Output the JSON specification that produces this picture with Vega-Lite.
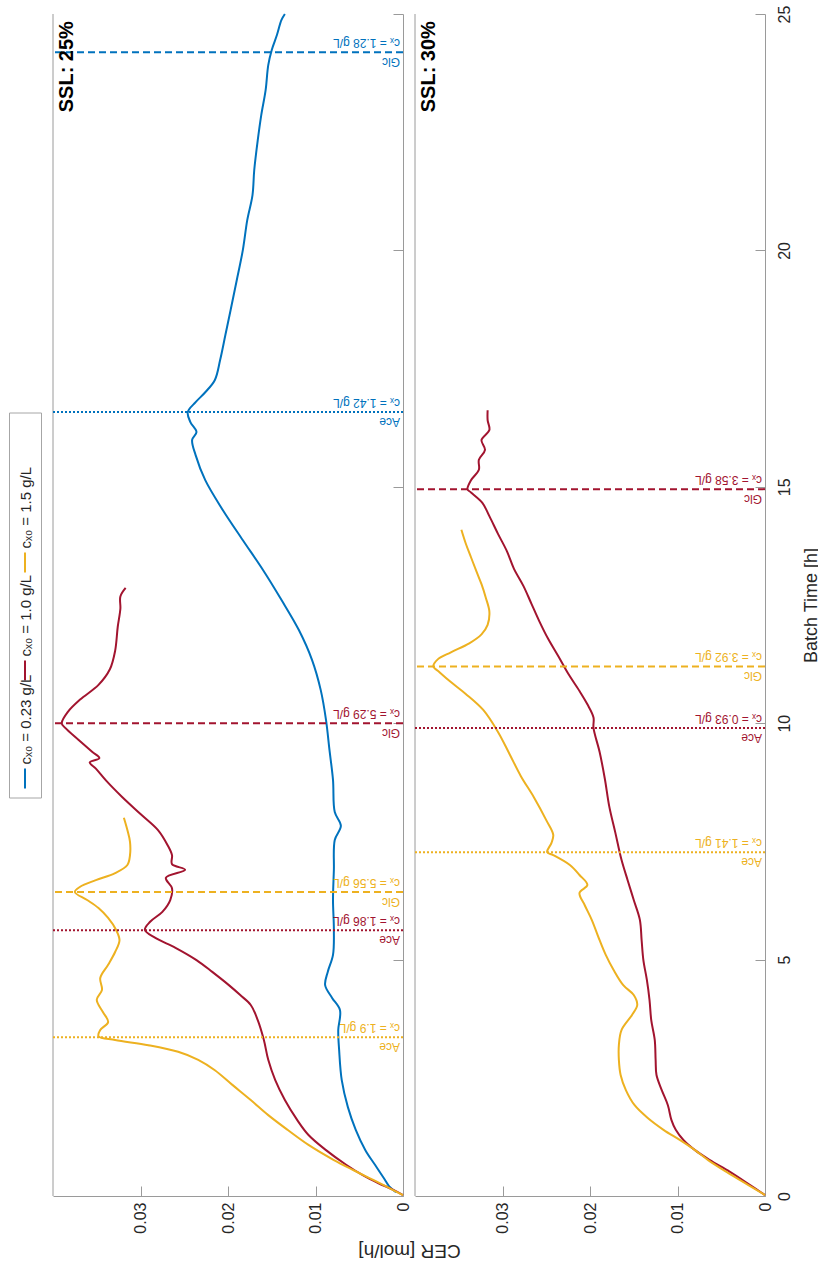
{
  "$schema": "https://vega.github.io/schema/vega-lite/v6.json",
  "background": "white",
  "padding": {"left": 8, "top": 5, "right": 0, "bottom": 20},
  "config": {
    "view": {"stroke": null},
    "font": "Liberation Sans, DejaVu Sans, sans-serif",
    "axis": {
      "grid": false,
      "domainColor": "#9a9a9a",
      "tickColor": "#9a9a9a",
      "labelColor": "#262626",
      "titleColor": "#262626",
      "labelFontSize": 16,
      "titleFontWeight": "normal",
      "labelFlush": false,
      "labelOverlap": false
    }
  },
  "datasets": {
    "curves": [
      {"panel": "SSL: 25%", "c0": "0.23", "t": 0.08, "cer": 0.0008},
      {"panel": "SSL: 25%", "c0": "0.23", "t": 0.21, "cer": 0.0016},
      {"panel": "SSL: 25%", "c0": "0.23", "t": 0.38, "cer": 0.0022},
      {"panel": "SSL: 25%", "c0": "0.23", "t": 0.66, "cer": 0.0032},
      {"panel": "SSL: 25%", "c0": "0.23", "t": 0.97, "cer": 0.0043},
      {"panel": "SSL: 25%", "c0": "0.23", "t": 1.40, "cer": 0.0054},
      {"panel": "SSL: 25%", "c0": "0.23", "t": 1.88, "cer": 0.0063},
      {"panel": "SSL: 25%", "c0": "0.23", "t": 2.45, "cer": 0.0070},
      {"panel": "SSL: 25%", "c0": "0.23", "t": 3.09, "cer": 0.0073},
      {"panel": "SSL: 25%", "c0": "0.23", "t": 3.51, "cer": 0.0074},
      {"panel": "SSL: 25%", "c0": "0.23", "t": 3.93, "cer": 0.0072},
      {"panel": "SSL: 25%", "c0": "0.23", "t": 4.19, "cer": 0.0081},
      {"panel": "SSL: 25%", "c0": "0.23", "t": 4.46, "cer": 0.0089},
      {"panel": "SSL: 25%", "c0": "0.23", "t": 4.74, "cer": 0.0086},
      {"panel": "SSL: 25%", "c0": "0.23", "t": 5.10, "cer": 0.0080},
      {"panel": "SSL: 25%", "c0": "0.23", "t": 5.63, "cer": 0.0079},
      {"panel": "SSL: 25%", "c0": "0.23", "t": 6.26, "cer": 0.0080},
      {"panel": "SSL: 25%", "c0": "0.23", "t": 6.90, "cer": 0.0079},
      {"panel": "SSL: 25%", "c0": "0.23", "t": 7.53, "cer": 0.0078},
      {"panel": "SSL: 25%", "c0": "0.23", "t": 7.83, "cer": 0.0071},
      {"panel": "SSL: 25%", "c0": "0.23", "t": 8.12, "cer": 0.0078},
      {"panel": "SSL: 25%", "c0": "0.23", "t": 8.80, "cer": 0.0080},
      {"panel": "SSL: 25%", "c0": "0.23", "t": 9.43, "cer": 0.0084},
      {"panel": "SSL: 25%", "c0": "0.23", "t": 10.07, "cer": 0.0088},
      {"panel": "SSL: 25%", "c0": "0.23", "t": 10.70, "cer": 0.0094},
      {"panel": "SSL: 25%", "c0": "0.23", "t": 11.34, "cer": 0.0104},
      {"panel": "SSL: 25%", "c0": "0.23", "t": 11.97, "cer": 0.0119},
      {"panel": "SSL: 25%", "c0": "0.23", "t": 12.61, "cer": 0.0139},
      {"panel": "SSL: 25%", "c0": "0.23", "t": 13.24, "cer": 0.0160},
      {"panel": "SSL: 25%", "c0": "0.23", "t": 13.87, "cer": 0.0183},
      {"panel": "SSL: 25%", "c0": "0.23", "t": 14.51, "cer": 0.0206},
      {"panel": "SSL: 25%", "c0": "0.23", "t": 15.14, "cer": 0.0226},
      {"panel": "SSL: 25%", "c0": "0.23", "t": 15.67, "cer": 0.0237},
      {"panel": "SSL: 25%", "c0": "0.23", "t": 15.99, "cer": 0.0241},
      {"panel": "SSL: 25%", "c0": "0.23", "t": 16.16, "cer": 0.0236},
      {"panel": "SSL: 25%", "c0": "0.23", "t": 16.37, "cer": 0.0243},
      {"panel": "SSL: 25%", "c0": "0.23", "t": 16.58, "cer": 0.0246},
      {"panel": "SSL: 25%", "c0": "0.23", "t": 16.79, "cer": 0.0237},
      {"panel": "SSL: 25%", "c0": "0.23", "t": 17.00, "cer": 0.0226},
      {"panel": "SSL: 25%", "c0": "0.23", "t": 17.26, "cer": 0.0215},
      {"panel": "SSL: 25%", "c0": "0.23", "t": 17.68, "cer": 0.0209},
      {"panel": "SSL: 25%", "c0": "0.23", "t": 18.21, "cer": 0.0203},
      {"panel": "SSL: 25%", "c0": "0.23", "t": 18.74, "cer": 0.0197},
      {"panel": "SSL: 25%", "c0": "0.23", "t": 19.37, "cer": 0.0190},
      {"panel": "SSL: 25%", "c0": "0.23", "t": 20.01, "cer": 0.0183},
      {"panel": "SSL: 25%", "c0": "0.23", "t": 20.64, "cer": 0.0178},
      {"panel": "SSL: 25%", "c0": "0.23", "t": 21.17, "cer": 0.0172},
      {"panel": "SSL: 25%", "c0": "0.23", "t": 21.70, "cer": 0.0170},
      {"panel": "SSL: 25%", "c0": "0.23", "t": 22.33, "cer": 0.0166},
      {"panel": "SSL: 25%", "c0": "0.23", "t": 22.86, "cer": 0.0162},
      {"panel": "SSL: 25%", "c0": "0.23", "t": 23.39, "cer": 0.0157},
      {"panel": "SSL: 25%", "c0": "0.23", "t": 23.92, "cer": 0.0154},
      {"panel": "SSL: 25%", "c0": "0.23", "t": 24.24, "cer": 0.0150},
      {"panel": "SSL: 25%", "c0": "0.23", "t": 24.56, "cer": 0.0144},
      {"panel": "SSL: 25%", "c0": "0.23", "t": 24.87, "cer": 0.0139},
      {"panel": "SSL: 25%", "c0": "0.23", "t": 25.00, "cer": 0.0135},

      {"panel": "SSL: 25%", "c0": "1.0", "t": 0.02, "cer": 0.0000},
      {"panel": "SSL: 25%", "c0": "1.0", "t": 0.13, "cer": 0.0011},
      {"panel": "SSL: 25%", "c0": "1.0", "t": 0.27, "cer": 0.0028},
      {"panel": "SSL: 25%", "c0": "1.0", "t": 0.44, "cer": 0.0046},
      {"panel": "SSL: 25%", "c0": "1.0", "t": 0.66, "cer": 0.0065},
      {"panel": "SSL: 25%", "c0": "1.0", "t": 0.97, "cer": 0.0088},
      {"panel": "SSL: 25%", "c0": "1.0", "t": 1.29, "cer": 0.0108},
      {"panel": "SSL: 25%", "c0": "1.0", "t": 1.61, "cer": 0.0121},
      {"panel": "SSL: 25%", "c0": "1.0", "t": 2.03, "cer": 0.0135},
      {"panel": "SSL: 25%", "c0": "1.0", "t": 2.45, "cer": 0.0146},
      {"panel": "SSL: 25%", "c0": "1.0", "t": 2.88, "cer": 0.0154},
      {"panel": "SSL: 25%", "c0": "1.0", "t": 3.30, "cer": 0.0159},
      {"panel": "SSL: 25%", "c0": "1.0", "t": 3.72, "cer": 0.0166},
      {"panel": "SSL: 25%", "c0": "1.0", "t": 4.04, "cer": 0.0174},
      {"panel": "SSL: 25%", "c0": "1.0", "t": 4.25, "cer": 0.0186},
      {"panel": "SSL: 25%", "c0": "1.0", "t": 4.46, "cer": 0.0199},
      {"panel": "SSL: 25%", "c0": "1.0", "t": 4.74, "cer": 0.0218},
      {"panel": "SSL: 25%", "c0": "1.0", "t": 4.99, "cer": 0.0236},
      {"panel": "SSL: 25%", "c0": "1.0", "t": 5.25, "cer": 0.0260},
      {"panel": "SSL: 25%", "c0": "1.0", "t": 5.46, "cer": 0.0283},
      {"panel": "SSL: 25%", "c0": "1.0", "t": 5.63, "cer": 0.0295},
      {"panel": "SSL: 25%", "c0": "1.0", "t": 5.80, "cer": 0.0289},
      {"panel": "SSL: 25%", "c0": "1.0", "t": 6.01, "cer": 0.0275},
      {"panel": "SSL: 25%", "c0": "1.0", "t": 6.26, "cer": 0.0266},
      {"panel": "SSL: 25%", "c0": "1.0", "t": 6.51, "cer": 0.0264},
      {"panel": "SSL: 25%", "c0": "1.0", "t": 6.73, "cer": 0.0271},
      {"panel": "SSL: 25%", "c0": "1.0", "t": 6.90, "cer": 0.0249},
      {"panel": "SSL: 25%", "c0": "1.0", "t": 7.02, "cer": 0.0264},
      {"panel": "SSL: 25%", "c0": "1.0", "t": 7.21, "cer": 0.0264},
      {"panel": "SSL: 25%", "c0": "1.0", "t": 7.42, "cer": 0.0269},
      {"panel": "SSL: 25%", "c0": "1.0", "t": 7.74, "cer": 0.0280},
      {"panel": "SSL: 25%", "c0": "1.0", "t": 8.08, "cer": 0.0300},
      {"panel": "SSL: 25%", "c0": "1.0", "t": 8.44, "cer": 0.0321},
      {"panel": "SSL: 25%", "c0": "1.0", "t": 8.78, "cer": 0.0339},
      {"panel": "SSL: 25%", "c0": "1.0", "t": 9.04, "cer": 0.0351},
      {"panel": "SSL: 25%", "c0": "1.0", "t": 9.17, "cer": 0.0358},
      {"panel": "SSL: 25%", "c0": "1.0", "t": 9.26, "cer": 0.0347},
      {"panel": "SSL: 25%", "c0": "1.0", "t": 9.39, "cer": 0.0355},
      {"panel": "SSL: 25%", "c0": "1.0", "t": 9.65, "cer": 0.0371},
      {"panel": "SSL: 25%", "c0": "1.0", "t": 9.90, "cer": 0.0386},
      {"panel": "SSL: 25%", "c0": "1.0", "t": 10.00, "cer": 0.0390},
      {"panel": "SSL: 25%", "c0": "1.0", "t": 10.24, "cer": 0.0383},
      {"panel": "SSL: 25%", "c0": "1.0", "t": 10.50, "cer": 0.0369},
      {"panel": "SSL: 25%", "c0": "1.0", "t": 10.81, "cer": 0.0348},
      {"panel": "SSL: 25%", "c0": "1.0", "t": 11.14, "cer": 0.0335},
      {"panel": "SSL: 25%", "c0": "1.0", "t": 11.53, "cer": 0.0329},
      {"panel": "SSL: 25%", "c0": "1.0", "t": 12.04, "cer": 0.0326},
      {"panel": "SSL: 25%", "c0": "1.0", "t": 12.42, "cer": 0.0323},
      {"panel": "SSL: 25%", "c0": "1.0", "t": 12.68, "cer": 0.0323},
      {"panel": "SSL: 25%", "c0": "1.0", "t": 12.86, "cer": 0.0317},

      {"panel": "SSL: 25%", "c0": "1.5", "t": 0.02, "cer": 0.0000},
      {"panel": "SSL: 25%", "c0": "1.5", "t": 0.17, "cer": 0.0016},
      {"panel": "SSL: 25%", "c0": "1.5", "t": 0.34, "cer": 0.0034},
      {"panel": "SSL: 25%", "c0": "1.5", "t": 0.55, "cer": 0.0057},
      {"panel": "SSL: 25%", "c0": "1.5", "t": 0.76, "cer": 0.0079},
      {"panel": "SSL: 25%", "c0": "1.5", "t": 1.08, "cer": 0.0108},
      {"panel": "SSL: 25%", "c0": "1.5", "t": 1.40, "cer": 0.0132},
      {"panel": "SSL: 25%", "c0": "1.5", "t": 1.71, "cer": 0.0154},
      {"panel": "SSL: 25%", "c0": "1.5", "t": 2.03, "cer": 0.0174},
      {"panel": "SSL: 25%", "c0": "1.5", "t": 2.35, "cer": 0.0195},
      {"panel": "SSL: 25%", "c0": "1.5", "t": 2.66, "cer": 0.0215},
      {"panel": "SSL: 25%", "c0": "1.5", "t": 2.88, "cer": 0.0234},
      {"panel": "SSL: 25%", "c0": "1.5", "t": 3.05, "cer": 0.0257},
      {"panel": "SSL: 25%", "c0": "1.5", "t": 3.19, "cer": 0.0291},
      {"panel": "SSL: 25%", "c0": "1.5", "t": 3.30, "cer": 0.0329},
      {"panel": "SSL: 25%", "c0": "1.5", "t": 3.38, "cer": 0.0348},
      {"panel": "SSL: 25%", "c0": "1.5", "t": 3.51, "cer": 0.0346},
      {"panel": "SSL: 25%", "c0": "1.5", "t": 3.68, "cer": 0.0337},
      {"panel": "SSL: 25%", "c0": "1.5", "t": 3.89, "cer": 0.0343},
      {"panel": "SSL: 25%", "c0": "1.5", "t": 4.15, "cer": 0.0350},
      {"panel": "SSL: 25%", "c0": "1.5", "t": 4.36, "cer": 0.0344},
      {"panel": "SSL: 25%", "c0": "1.5", "t": 4.61, "cer": 0.0346},
      {"panel": "SSL: 25%", "c0": "1.5", "t": 4.89, "cer": 0.0337},
      {"panel": "SSL: 25%", "c0": "1.5", "t": 5.16, "cer": 0.0329},
      {"panel": "SSL: 25%", "c0": "1.5", "t": 5.41, "cer": 0.0324},
      {"panel": "SSL: 25%", "c0": "1.5", "t": 5.63, "cer": 0.0328},
      {"panel": "SSL: 25%", "c0": "1.5", "t": 5.88, "cer": 0.0337},
      {"panel": "SSL: 25%", "c0": "1.5", "t": 6.09, "cer": 0.0348},
      {"panel": "SSL: 25%", "c0": "1.5", "t": 6.26, "cer": 0.0361},
      {"panel": "SSL: 25%", "c0": "1.5", "t": 6.43, "cer": 0.0375},
      {"panel": "SSL: 25%", "c0": "1.5", "t": 6.54, "cer": 0.0369},
      {"panel": "SSL: 25%", "c0": "1.5", "t": 6.68, "cer": 0.0351},
      {"panel": "SSL: 25%", "c0": "1.5", "t": 6.83, "cer": 0.0329},
      {"panel": "SSL: 25%", "c0": "1.5", "t": 7.00, "cer": 0.0315},
      {"panel": "SSL: 25%", "c0": "1.5", "t": 7.21, "cer": 0.0312},
      {"panel": "SSL: 25%", "c0": "1.5", "t": 7.49, "cer": 0.0312},
      {"panel": "SSL: 25%", "c0": "1.5", "t": 7.74, "cer": 0.0315},
      {"panel": "SSL: 25%", "c0": "1.5", "t": 8.00, "cer": 0.0319},

      {"panel": "SSL: 30%", "c0": "1.0", "t": 0.02, "cer": 0.0000},
      {"panel": "SSL: 30%", "c0": "1.0", "t": 0.23, "cer": 0.0017},
      {"panel": "SSL: 30%", "c0": "1.0", "t": 0.51, "cer": 0.0040},
      {"panel": "SSL: 30%", "c0": "1.0", "t": 0.76, "cer": 0.0063},
      {"panel": "SSL: 30%", "c0": "1.0", "t": 0.97, "cer": 0.0080},
      {"panel": "SSL: 30%", "c0": "1.0", "t": 1.18, "cer": 0.0093},
      {"panel": "SSL: 30%", "c0": "1.0", "t": 1.40, "cer": 0.0102},
      {"panel": "SSL: 30%", "c0": "1.0", "t": 1.61, "cer": 0.0107},
      {"panel": "SSL: 30%", "c0": "1.0", "t": 1.92, "cer": 0.0111},
      {"panel": "SSL: 30%", "c0": "1.0", "t": 2.24, "cer": 0.0118},
      {"panel": "SSL: 30%", "c0": "1.0", "t": 2.56, "cer": 0.0124},
      {"panel": "SSL: 30%", "c0": "1.0", "t": 2.88, "cer": 0.0125},
      {"panel": "SSL: 30%", "c0": "1.0", "t": 3.30, "cer": 0.0126},
      {"panel": "SSL: 30%", "c0": "1.0", "t": 3.72, "cer": 0.0130},
      {"panel": "SSL: 30%", "c0": "1.0", "t": 4.15, "cer": 0.0132},
      {"panel": "SSL: 30%", "c0": "1.0", "t": 4.57, "cer": 0.0135},
      {"panel": "SSL: 30%", "c0": "1.0", "t": 4.99, "cer": 0.0139},
      {"panel": "SSL: 30%", "c0": "1.0", "t": 5.41, "cer": 0.0141},
      {"panel": "SSL: 30%", "c0": "1.0", "t": 5.84, "cer": 0.0143},
      {"panel": "SSL: 30%", "c0": "1.0", "t": 6.26, "cer": 0.0150},
      {"panel": "SSL: 30%", "c0": "1.0", "t": 6.68, "cer": 0.0157},
      {"panel": "SSL: 30%", "c0": "1.0", "t": 7.11, "cer": 0.0164},
      {"panel": "SSL: 30%", "c0": "1.0", "t": 7.68, "cer": 0.0171},
      {"panel": "SSL: 30%", "c0": "1.0", "t": 8.24, "cer": 0.0178},
      {"panel": "SSL: 30%", "c0": "1.0", "t": 8.82, "cer": 0.0183},
      {"panel": "SSL: 30%", "c0": "1.0", "t": 9.39, "cer": 0.0189},
      {"panel": "SSL: 30%", "c0": "1.0", "t": 9.90, "cer": 0.0196},
      {"panel": "SSL: 30%", "c0": "1.0", "t": 10.12, "cer": 0.0196},
      {"panel": "SSL: 30%", "c0": "1.0", "t": 10.40, "cer": 0.0203},
      {"panel": "SSL: 30%", "c0": "1.0", "t": 10.68, "cer": 0.0212},
      {"panel": "SSL: 30%", "c0": "1.0", "t": 11.05, "cer": 0.0225},
      {"panel": "SSL: 30%", "c0": "1.0", "t": 11.41, "cer": 0.0236},
      {"panel": "SSL: 30%", "c0": "1.0", "t": 11.79, "cer": 0.0248},
      {"panel": "SSL: 30%", "c0": "1.0", "t": 12.16, "cer": 0.0258},
      {"panel": "SSL: 30%", "c0": "1.0", "t": 12.53, "cer": 0.0267},
      {"panel": "SSL: 30%", "c0": "1.0", "t": 12.90, "cer": 0.0276},
      {"panel": "SSL: 30%", "c0": "1.0", "t": 13.27, "cer": 0.0287},
      {"panel": "SSL: 30%", "c0": "1.0", "t": 13.64, "cer": 0.0295},
      {"panel": "SSL: 30%", "c0": "1.0", "t": 14.00, "cer": 0.0305},
      {"panel": "SSL: 30%", "c0": "1.0", "t": 14.38, "cer": 0.0315},
      {"panel": "SSL: 30%", "c0": "1.0", "t": 14.66, "cer": 0.0323},
      {"panel": "SSL: 30%", "c0": "1.0", "t": 14.88, "cer": 0.0336},
      {"panel": "SSL: 30%", "c0": "1.0", "t": 14.95, "cer": 0.0340},
      {"panel": "SSL: 30%", "c0": "1.0", "t": 15.14, "cer": 0.0336},
      {"panel": "SSL: 30%", "c0": "1.0", "t": 15.36, "cer": 0.0327},
      {"panel": "SSL: 30%", "c0": "1.0", "t": 15.57, "cer": 0.0327},
      {"panel": "SSL: 30%", "c0": "1.0", "t": 15.78, "cer": 0.0320},
      {"panel": "SSL: 30%", "c0": "1.0", "t": 15.99, "cer": 0.0324},
      {"panel": "SSL: 30%", "c0": "1.0", "t": 16.20, "cer": 0.0315},
      {"panel": "SSL: 30%", "c0": "1.0", "t": 16.41, "cer": 0.0317},
      {"panel": "SSL: 30%", "c0": "1.0", "t": 16.62, "cer": 0.0317},

      {"panel": "SSL: 30%", "c0": "1.5", "t": 0.02, "cer": 0.0000},
      {"panel": "SSL: 30%", "c0": "1.5", "t": 0.23, "cer": 0.0019},
      {"panel": "SSL: 30%", "c0": "1.5", "t": 0.51, "cer": 0.0044},
      {"panel": "SSL: 30%", "c0": "1.5", "t": 0.76, "cer": 0.0065},
      {"panel": "SSL: 30%", "c0": "1.5", "t": 0.97, "cer": 0.0080},
      {"panel": "SSL: 30%", "c0": "1.5", "t": 1.18, "cer": 0.0097},
      {"panel": "SSL: 30%", "c0": "1.5", "t": 1.40, "cer": 0.0116},
      {"panel": "SSL: 30%", "c0": "1.5", "t": 1.65, "cer": 0.0134},
      {"panel": "SSL: 30%", "c0": "1.5", "t": 1.92, "cer": 0.0149},
      {"panel": "SSL: 30%", "c0": "1.5", "t": 2.24, "cer": 0.0159},
      {"panel": "SSL: 30%", "c0": "1.5", "t": 2.56, "cer": 0.0165},
      {"panel": "SSL: 30%", "c0": "1.5", "t": 2.88, "cer": 0.0167},
      {"panel": "SSL: 30%", "c0": "1.5", "t": 3.19, "cer": 0.0167},
      {"panel": "SSL: 30%", "c0": "1.5", "t": 3.51, "cer": 0.0164},
      {"panel": "SSL: 30%", "c0": "1.5", "t": 3.83, "cer": 0.0152},
      {"panel": "SSL: 30%", "c0": "1.5", "t": 4.04, "cer": 0.0146},
      {"panel": "SSL: 30%", "c0": "1.5", "t": 4.25, "cer": 0.0150},
      {"panel": "SSL: 30%", "c0": "1.5", "t": 4.46, "cer": 0.0162},
      {"panel": "SSL: 30%", "c0": "1.5", "t": 4.78, "cer": 0.0173},
      {"panel": "SSL: 30%", "c0": "1.5", "t": 5.10, "cer": 0.0182},
      {"panel": "SSL: 30%", "c0": "1.5", "t": 5.41, "cer": 0.0189},
      {"panel": "SSL: 30%", "c0": "1.5", "t": 5.84, "cer": 0.0198},
      {"panel": "SSL: 30%", "c0": "1.5", "t": 6.15, "cer": 0.0206},
      {"panel": "SSL: 30%", "c0": "1.5", "t": 6.41, "cer": 0.0212},
      {"panel": "SSL: 30%", "c0": "1.5", "t": 6.58, "cer": 0.0203},
      {"panel": "SSL: 30%", "c0": "1.5", "t": 6.79, "cer": 0.0212},
      {"panel": "SSL: 30%", "c0": "1.5", "t": 7.00, "cer": 0.0223},
      {"panel": "SSL: 30%", "c0": "1.5", "t": 7.21, "cer": 0.0242},
      {"panel": "SSL: 30%", "c0": "1.5", "t": 7.27, "cer": 0.0249},
      {"panel": "SSL: 30%", "c0": "1.5", "t": 7.47, "cer": 0.0244},
      {"panel": "SSL: 30%", "c0": "1.5", "t": 7.64, "cer": 0.0242},
      {"panel": "SSL: 30%", "c0": "1.5", "t": 7.95, "cer": 0.0250},
      {"panel": "SSL: 30%", "c0": "1.5", "t": 8.43, "cer": 0.0264},
      {"panel": "SSL: 30%", "c0": "1.5", "t": 8.88, "cer": 0.0279},
      {"panel": "SSL: 30%", "c0": "1.5", "t": 9.35, "cer": 0.0292},
      {"panel": "SSL: 30%", "c0": "1.5", "t": 9.81, "cer": 0.0305},
      {"panel": "SSL: 30%", "c0": "1.5", "t": 10.28, "cer": 0.0322},
      {"panel": "SSL: 30%", "c0": "1.5", "t": 10.62, "cer": 0.0342},
      {"panel": "SSL: 30%", "c0": "1.5", "t": 10.87, "cer": 0.0359},
      {"panel": "SSL: 30%", "c0": "1.5", "t": 11.08, "cer": 0.0372},
      {"panel": "SSL: 30%", "c0": "1.5", "t": 11.20, "cer": 0.0379},
      {"panel": "SSL: 30%", "c0": "1.5", "t": 11.35, "cer": 0.0374},
      {"panel": "SSL: 30%", "c0": "1.5", "t": 11.50, "cer": 0.0359},
      {"panel": "SSL: 30%", "c0": "1.5", "t": 11.69, "cer": 0.0338},
      {"panel": "SSL: 30%", "c0": "1.5", "t": 11.88, "cer": 0.0324},
      {"panel": "SSL: 30%", "c0": "1.5", "t": 12.08, "cer": 0.0317},
      {"panel": "SSL: 30%", "c0": "1.5", "t": 12.36, "cer": 0.0315},
      {"panel": "SSL: 30%", "c0": "1.5", "t": 12.65, "cer": 0.0319},
      {"panel": "SSL: 30%", "c0": "1.5", "t": 12.94, "cer": 0.0324},
      {"panel": "SSL: 30%", "c0": "1.5", "t": 13.22, "cer": 0.0330},
      {"panel": "SSL: 30%", "c0": "1.5", "t": 13.51, "cer": 0.0336},
      {"panel": "SSL: 30%", "c0": "1.5", "t": 13.80, "cer": 0.0342},
      {"panel": "SSL: 30%", "c0": "1.5", "t": 14.09, "cer": 0.0347}
    ],
    "events": [
      {"panel": "SSL: 25%", "c0": "0.23", "kind": "Glc", "t": 24.19, "cx": "cₓ = 1.28 g/L"},
      {"panel": "SSL: 25%", "c0": "0.23", "kind": "Ace", "t": 16.58, "cx": "cₓ = 1.42 g/L"},
      {"panel": "SSL: 25%", "c0": "1.0", "kind": "Glc", "t": 10.0, "cx": "cₓ = 5.29 g/L"},
      {"panel": "SSL: 25%", "c0": "1.5", "kind": "Glc", "t": 6.43, "cx": "cₓ = 5.56 g/L"},
      {"panel": "SSL: 25%", "c0": "1.0", "kind": "Ace", "t": 5.62, "cx": "cₓ = 1.86 g/L"},
      {"panel": "SSL: 25%", "c0": "1.5", "kind": "Ace", "t": 3.36, "cx": "cₓ = 1.9 g/L"},
      {"panel": "SSL: 30%", "c0": "1.0", "kind": "Glc", "t": 14.95, "cx": "cₓ = 3.58 g/L"},
      {"panel": "SSL: 30%", "c0": "1.5", "kind": "Glc", "t": 11.2, "cx": "cₓ = 3.92 g/L"},
      {"panel": "SSL: 30%", "c0": "1.0", "kind": "Ace", "t": 9.9, "cx": "cₓ = 0.93 g/L"},
      {"panel": "SSL: 30%", "c0": "1.5", "kind": "Ace", "t": 7.27, "cx": "cₓ = 1.41 g/L"}
    ],
    "panels": [
      {"panel": "SSL: 25%"},
      {"panel": "SSL: 30%"}
    ],
    "series": [
      {"c0": "0.23", "label": "cₓ₀ = 0.23 g/L"},
      {"c0": "1.0", "label": "cₓ₀ = 1.0  g/L"},
      {"c0": "1.5", "label": "cₓ₀ = 1.5  g/L"}
    ]
  },
  "hconcat": [
    {
      "width": 32,
      "height": 385,
      "view": {"stroke": "#a6a6a6", "strokeWidth": 1},
      "data": {"name": "series"},
      "layer": [
        {
          "mark": {"type": "point", "shape": "M0,-1L0,1", "size": 400, "strokeWidth": 2, "filled": false, "opacity": 1},
          "encoding": {
            "x": {"value": 16},
            "y": {"field": "c0", "type": "nominal", "scale": {"type": "point", "domain": ["0.23", "1.0", "1.5"], "range": [366, 150], "padding": 0}, "axis": null},
            "color": {"field": "c0", "type": "nominal", "scale": {"domain": ["0.23", "1.0", "1.5"], "range": ["#0072BD", "#A2142F", "#EDB120"]}, "legend": null}
          }
        },
        {
          "mark": {"type": "text", "angle": 270, "align": "left", "baseline": "middle", "fontSize": 15, "yOffset": -14, "color": "#262626"},
          "encoding": {
            "x": {"value": 17},
            "y": {"field": "c0", "type": "nominal", "scale": {"type": "point", "domain": ["0.23", "1.0", "1.5"], "range": [366, 150], "padding": 0}, "axis": null},
            "text": {"field": "label"}
          }
        }
      ]
    },
    {
      "width": 350,
      "height": 1182,
      "layer": [
        {
          "data": {"name": "panels"},
          "transform": [{"filter": "datum.panel === 'SSL: 25%'"}],
          "mark": {"type": "rule", "color": "#9a9a9a", "strokeWidth": 1},
          "encoding": {"x": {"datum": 0.04, "type": "quantitative"}}
        },
        {
          "data": {"name": "curves"},
          "transform": [{"filter": "datum.panel === 'SSL: 25%'"}],
          "mark": {"type": "line", "strokeWidth": 2, "interpolate": "catmull-rom"},
          "encoding": {
            "x": {
              "field": "cer", "type": "quantitative",
              "scale": {"domain": [0, 0.04], "reverse": true, "nice": false},
              "axis": {"orient": "bottom", "values": [0, 0.01, 0.02, 0.03], "format": ".2~f", "tickSize": -10, "labelAngle": 270, "labelPadding": 16,
                "title": "CER [mol/h]", "titleFontSize": 19, "titleAngle": 180, "titleAlign": "center", "titleBaseline": "middle", "titleX": 356, "titleY": 54}
            },
            "y": {
              "field": "t", "type": "quantitative",
              "scale": {"domain": [0, 25], "nice": false},
              "axis": {"orient": "right", "values": [0, 5, 10, 15, 20, 25], "tickSize": -10, "labels": false, "title": null}
            },
            "color": {"field": "c0", "type": "nominal", "scale": {"domain": ["0.23", "1.0", "1.5"], "range": ["#0072BD", "#A2142F", "#EDB120"]}, "legend": null},
            "order": {"field": "t", "type": "quantitative"}
          }
        },
        {
          "data": {"name": "events"},
          "transform": [{"filter": "datum.panel === 'SSL: 25%'"}],
          "mark": {"type": "rule", "strokeWidth": 2},
          "encoding": {
            "y": {"field": "t", "type": "quantitative"},
            "color": {"field": "c0", "type": "nominal", "legend": null},
            "strokeDash": {"field": "kind", "type": "nominal", "scale": {"domain": ["Glc", "Ace"], "range": [[7, 4], [2, 2]]}, "legend": null}
          }
        },
        {
          "data": {"name": "events"},
          "transform": [{"filter": "datum.panel === 'SSL: 25%'"}],
          "mark": {"type": "text", "angle": 180, "align": "left", "baseline": "top", "fontSize": 12, "xOffset": -3, "yOffset": -4},
          "encoding": {
            "x": {"datum": 0, "type": "quantitative"},
            "y": {"field": "t", "type": "quantitative"},
            "color": {"field": "c0", "type": "nominal", "legend": null},
            "text": {"field": "cx"}
          }
        },
        {
          "data": {"name": "events"},
          "transform": [{"filter": "datum.panel === 'SSL: 25%'"}],
          "mark": {"type": "text", "angle": 180, "align": "left", "baseline": "bottom", "fontSize": 12, "xOffset": -3, "yOffset": 3},
          "encoding": {
            "x": {"datum": 0, "type": "quantitative"},
            "y": {"field": "t", "type": "quantitative"},
            "color": {"field": "c0", "type": "nominal", "legend": null},
            "text": {"field": "kind"}
          }
        },
        {
          "data": {"name": "panels"},
          "transform": [{"filter": "datum.panel === 'SSL: 25%'"}],
          "mark": {"type": "text", "angle": 270, "align": "right", "baseline": "top", "fontSize": 20, "fontWeight": "bold", "color": "#000000"},
          "encoding": {
            "x": {"datum": 0.0395, "type": "quantitative"},
            "y": {"datum": 24.85, "type": "quantitative"},
            "text": {"field": "panel"}
          }
        }
      ]
    },
    {
      "width": 350,
      "height": 1182,
      "layer": [
        {
          "data": {"name": "panels"},
          "transform": [{"filter": "datum.panel === 'SSL: 30%'"}],
          "mark": {"type": "rule", "color": "#9a9a9a", "strokeWidth": 1},
          "encoding": {"x": {"datum": 0.04, "type": "quantitative"}}
        },
        {
          "data": {"name": "curves"},
          "transform": [{"filter": "datum.panel === 'SSL: 30%'"}],
          "mark": {"type": "line", "strokeWidth": 2, "interpolate": "catmull-rom"},
          "encoding": {
            "x": {
              "field": "cer", "type": "quantitative",
              "scale": {"domain": [0, 0.04], "reverse": true, "nice": false},
              "axis": {"orient": "bottom", "values": [0, 0.01, 0.02, 0.03], "format": ".2~f", "tickSize": -10, "labelAngle": 270, "labelPadding": 16, "title": null}
            },
            "y": {
              "field": "t", "type": "quantitative",
              "scale": {"domain": [0, 25], "nice": false},
              "axis": {"orient": "right", "values": [0, 5, 10, 15, 20, 25], "tickSize": -10, "labelAngle": 270, "labelAlign": "center", "labelBaseline": "top", "labelPadding": 21,
                "title": "Batch Time [h]", "titleFontSize": 18, "titleAngle": 270, "titleAlign": "center", "titleBaseline": "top", "titlePadding": 10}
            },
            "color": {"field": "c0", "type": "nominal", "scale": {"domain": ["0.23", "1.0", "1.5"], "range": ["#0072BD", "#A2142F", "#EDB120"]}, "legend": null},
            "order": {"field": "t", "type": "quantitative"}
          }
        },
        {
          "data": {"name": "events"},
          "transform": [{"filter": "datum.panel === 'SSL: 30%'"}],
          "mark": {"type": "rule", "strokeWidth": 2},
          "encoding": {
            "y": {"field": "t", "type": "quantitative"},
            "color": {"field": "c0", "type": "nominal", "legend": null},
            "strokeDash": {"field": "kind", "type": "nominal", "scale": {"domain": ["Glc", "Ace"], "range": [[7, 4], [2, 2]]}, "legend": null}
          }
        },
        {
          "data": {"name": "events"},
          "transform": [{"filter": "datum.panel === 'SSL: 30%'"}],
          "mark": {"type": "text", "angle": 180, "align": "left", "baseline": "top", "fontSize": 12, "xOffset": -3, "yOffset": -4},
          "encoding": {
            "x": {"datum": 0, "type": "quantitative"},
            "y": {"field": "t", "type": "quantitative"},
            "color": {"field": "c0", "type": "nominal", "legend": null},
            "text": {"field": "cx"}
          }
        },
        {
          "data": {"name": "events"},
          "transform": [{"filter": "datum.panel === 'SSL: 30%'"}],
          "mark": {"type": "text", "angle": 180, "align": "left", "baseline": "bottom", "fontSize": 12, "xOffset": -3, "yOffset": 3},
          "encoding": {
            "x": {"datum": 0, "type": "quantitative"},
            "y": {"field": "t", "type": "quantitative"},
            "color": {"field": "c0", "type": "nominal", "legend": null},
            "text": {"field": "kind"}
          }
        },
        {
          "data": {"name": "panels"},
          "transform": [{"filter": "datum.panel === 'SSL: 30%'"}],
          "mark": {"type": "text", "angle": 270, "align": "right", "baseline": "top", "fontSize": 20, "fontWeight": "bold", "color": "#000000"},
          "encoding": {
            "x": {"datum": 0.0395, "type": "quantitative"},
            "y": {"datum": 24.85, "type": "quantitative"},
            "text": {"field": "panel"}
          }
        }
      ]
    }
  ],
  "spacing": 12,
  "bounds": "flush",
  "center": true
}
